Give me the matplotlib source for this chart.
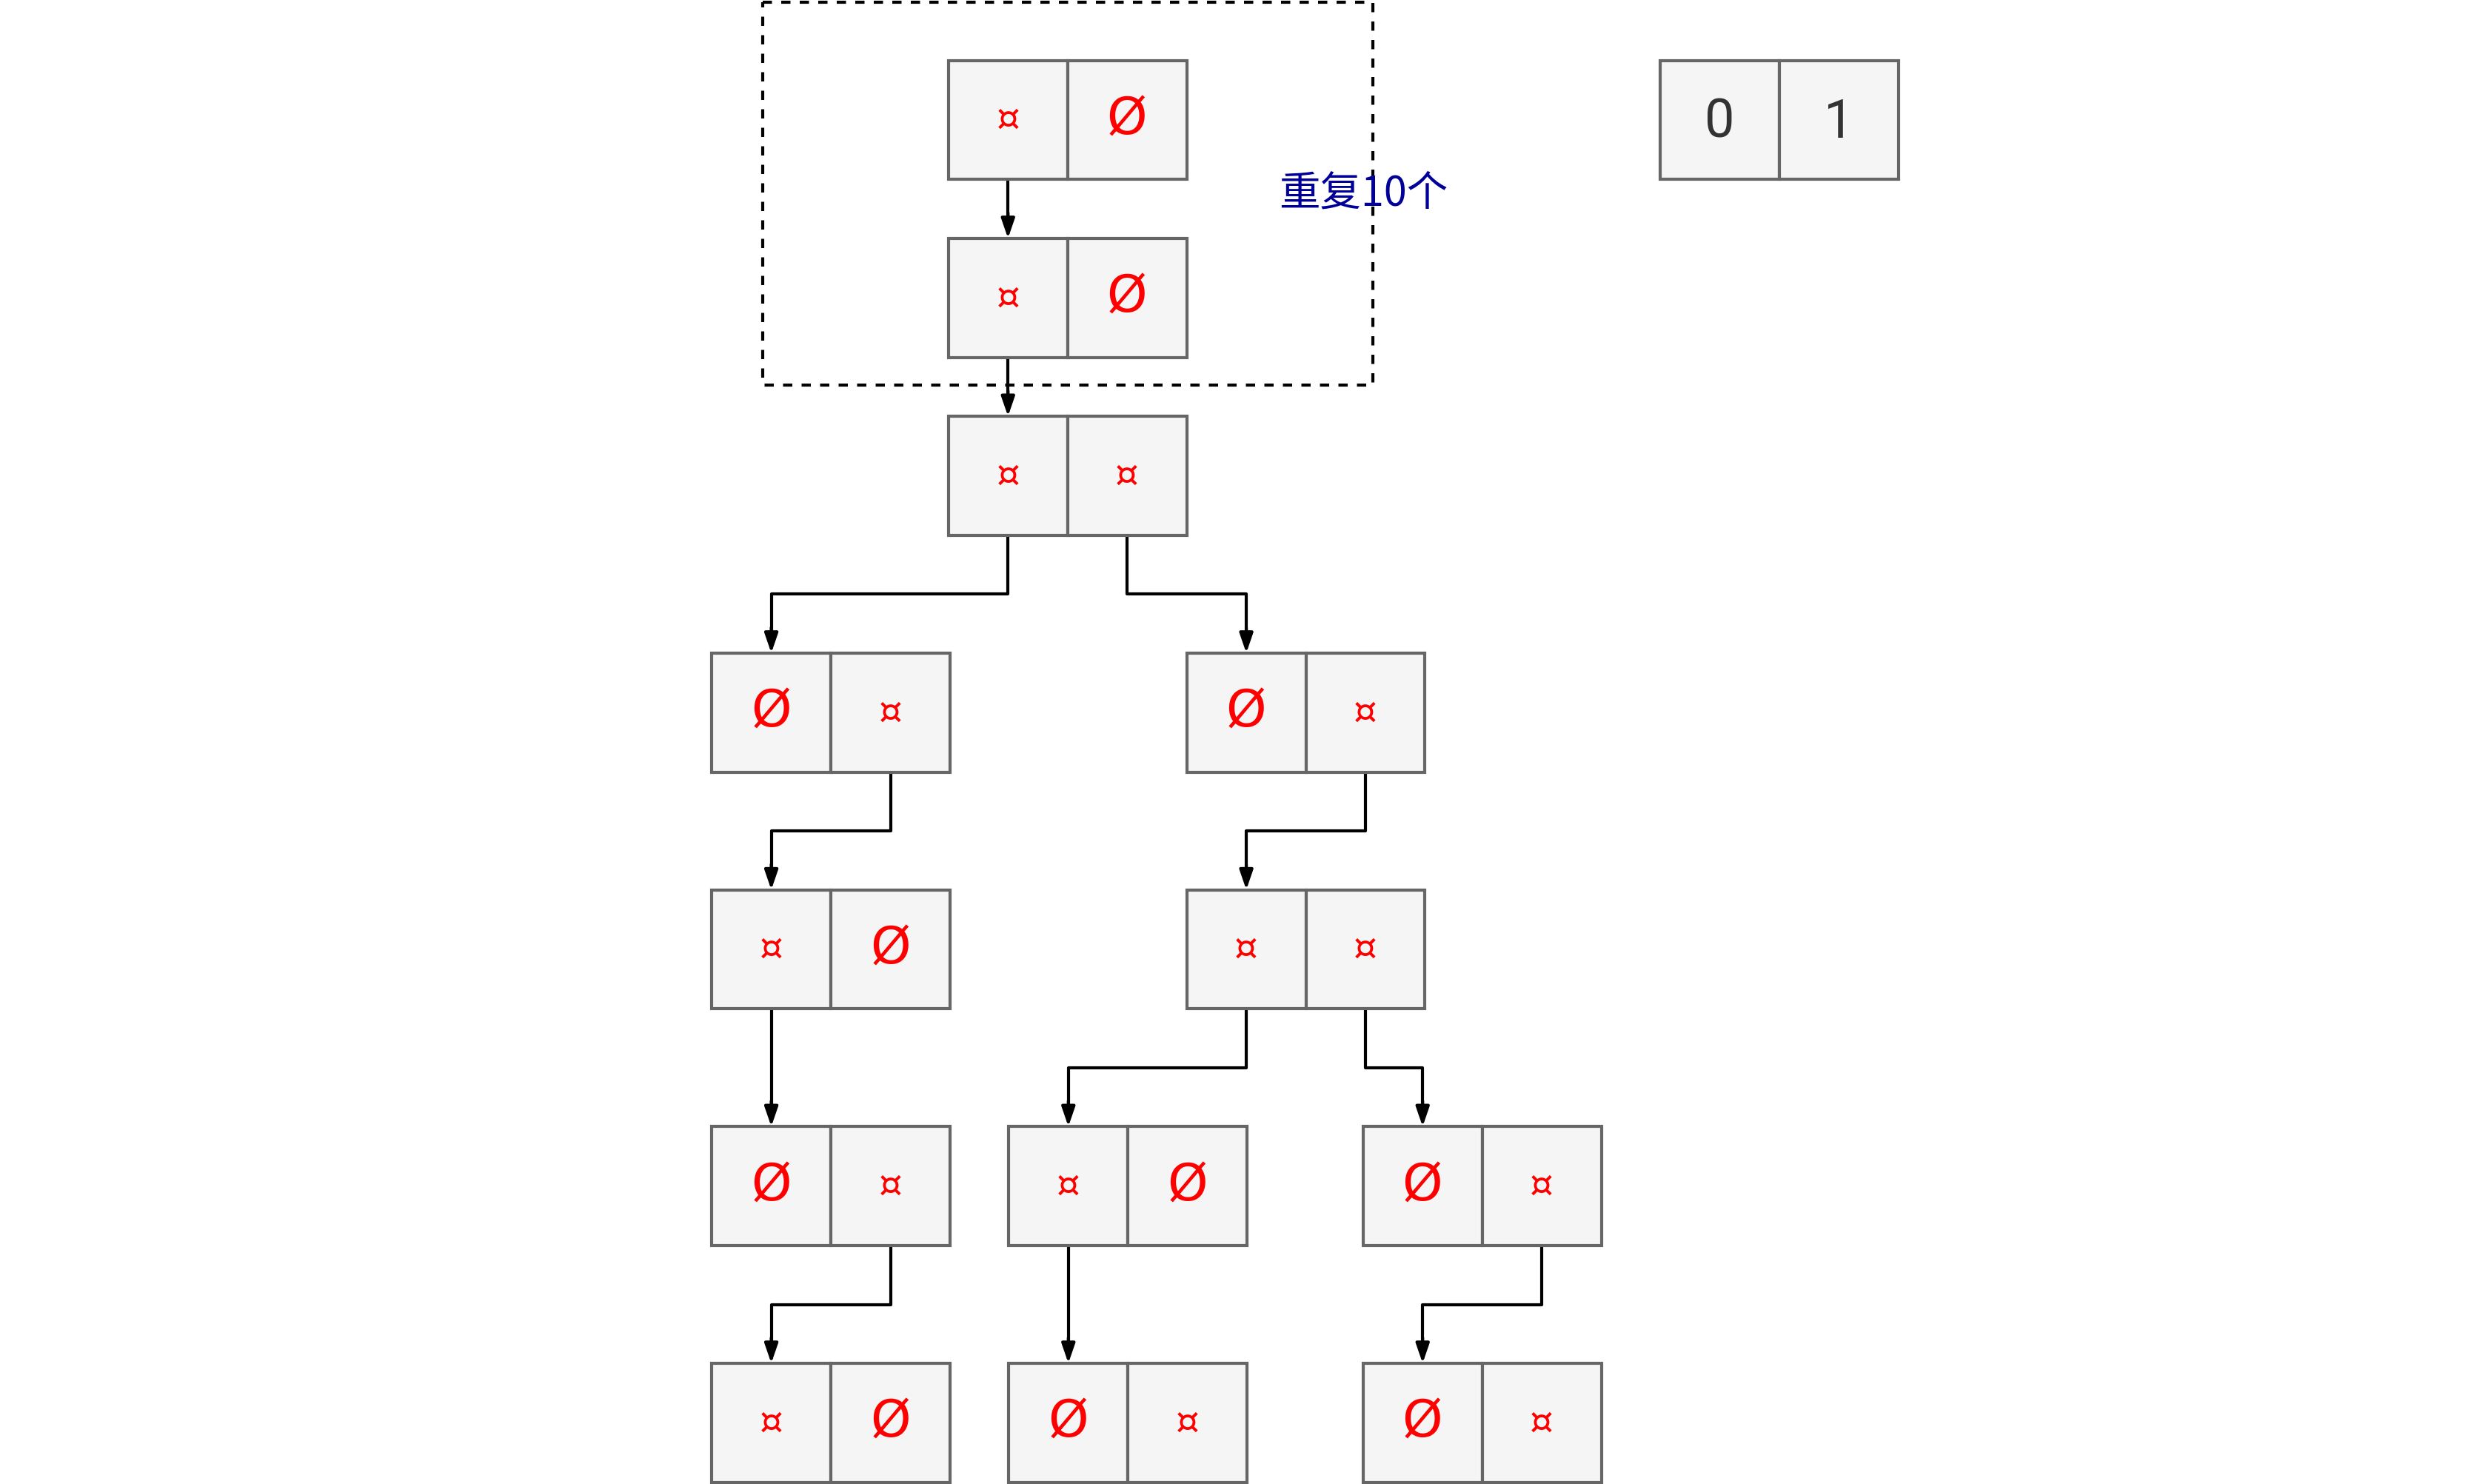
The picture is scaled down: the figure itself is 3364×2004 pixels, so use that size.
import matplotlib.pyplot as plt
from matplotlib.patches import Rectangle

plt.rcParams['font.family'] = ['Noto Sans CJK SC', 'DejaVu Sans']

# ============ data (layout units = display pixels of the reference) ============
S = 75  # cell size
# node: (left x, top y, left symbol, right symbol)
node_names = ['r1', 'r2', 'r3', 'l4', 'r4', 'l5', 'r5', 'a6', 'b6', 'c6', 'a7', 'b7', 'c7']
node_x = [597, 597, 597, 448, 747, 448, 747, 448, 635, 858, 448, 635, 858]
node_y = [38, 150, 262, 411, 411, 560, 560, 709, 709, 709, 858, 858, 858]
node_left = ['¤', '¤', '¤', 'Ø', 'Ø', '¤', '¤', 'Ø', '¤', 'Ø', '¤', 'Ø', 'Ø']
node_right = ['Ø', 'Ø', '¤', '¤', '¤', 'Ø', '¤', '¤', 'Ø', '¤', 'Ø', '¤', '¤']
# edges: (from node, from cell 0/1, to node)
edges = [('r1', 0, 'r2'), ('r2', 0, 'r3'), ('r3', 0, 'l4'), ('r3', 1, 'r4'),
         ('l4', 1, 'l5'), ('r4', 1, 'r5'), ('l5', 0, 'a6'), ('r5', 0, 'b6'),
         ('r5', 1, 'c6'), ('a6', 1, 'a7'), ('b6', 0, 'b7'), ('c6', 1, 'c7')]
legend_x, legend_y = 1045, 38
legend_labels = ['0', '1']
group_label = '重复10个'

W, H = 1568, 934
fig = plt.figure(figsize=(33.64, 20.04), dpi=100)
ax = fig.add_axes([0, 0, 1, 1])
ax.set_xlim(0, W)
ax.set_ylim(H, 0)
ax.axis('off')

def cell(x, y, txt, color, size):
    ax.add_patch(Rectangle((x, y), S, S, facecolor='#f5f5f5', edgecolor='#666666', lw=3, zorder=2))
    ax.text(x + S / 2, y + S / 2, txt, color=color, fontsize=size, ha='center', va='center',
            family='DejaVu Sans', zorder=3)

pos = {}
for n, x, y, a, b in zip(node_names, node_x, node_y, node_left, node_right):
    pos[n] = (x, y)
    for i, s in enumerate([a, b]):
        cell(x + i * S, y, s, 'red', 50 if s == 'Ø' else 36)

for lab, i in zip(legend_labels, range(2)):
    ax.add_patch(Rectangle((legend_x + i * S, legend_y), S, S, facecolor='#f5f5f5', edgecolor='#666666', lw=3))
    ax.text(legend_x + i * S + S / 2, legend_y + S / 2 + 2, lab, color='#333333', fontsize=52,
            ha='center', va='center', family='Roboto')

for src, c, dst in edges:
    sx, sy = pos[src]
    dx, dy = pos[dst]
    x0, y0 = sx + c * S + S / 2, sy + S
    x1, y1 = dx + S / 2, dy
    ym = (y0 + y1) / 2
    if abs(x0 - x1) < 1:
        xs, ys = [x0, x1], [y0, y1 - 12]
    else:
        xs, ys = [x0, x0, x1, x1], [y0, ym, ym, y1 - 12]
    ax.plot(xs, ys, color='black', lw=3, zorder=1)
    ax.annotate('', xy=(x1, y1), xytext=(x1, y1 - 16),
                arrowprops=dict(arrowstyle='-|>,head_length=1.6,head_width=0.55', color='black', lw=3,
                                shrinkA=0, shrinkB=0))

ax.add_patch(Rectangle((480, 1.5), 384, 241, fill=False, edgecolor='black', lw=3,
                       linestyle=(0, (3, 3)), zorder=4))
ax.text(858, 122, group_label, color='#000099', fontsize=40, ha='center', va='center', zorder=5)

fig.savefig('out.png', dpi=100, facecolor='white')
